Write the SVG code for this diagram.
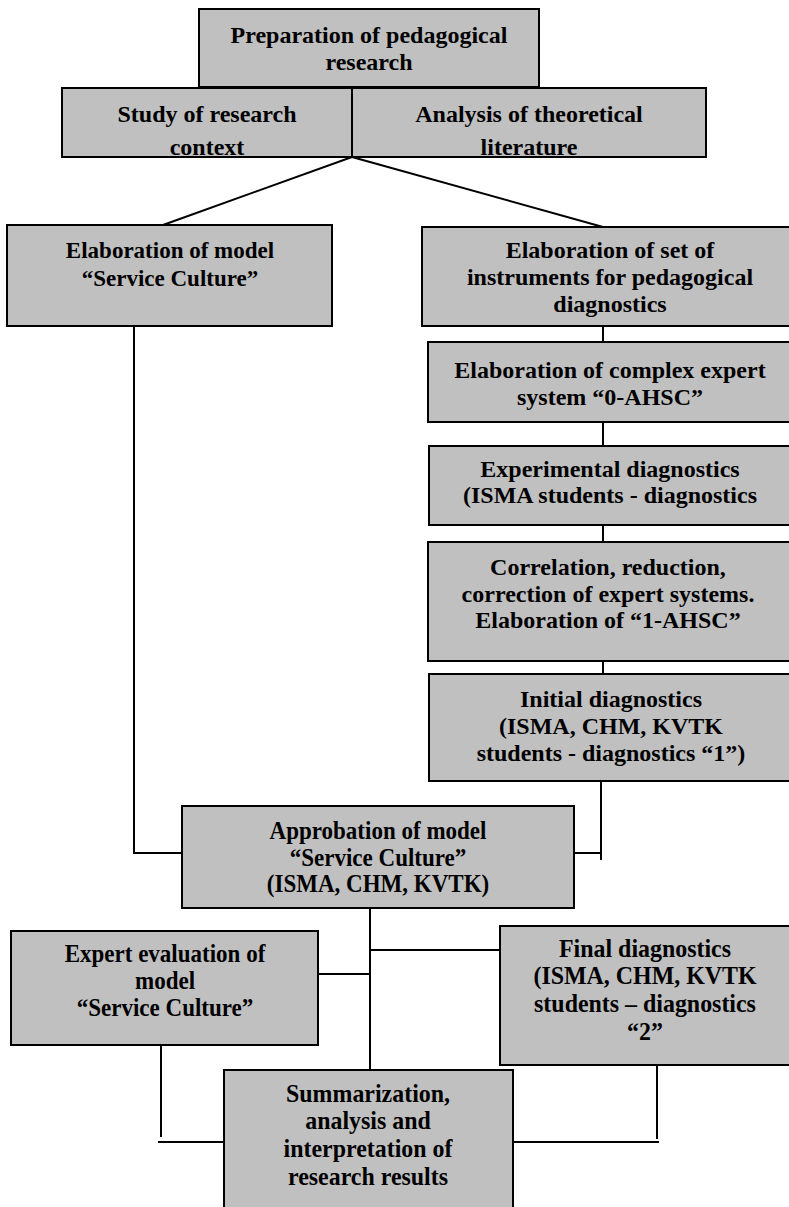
<svg xmlns="http://www.w3.org/2000/svg" width="789" height="1207" viewBox="0 0 789 1207">
  <style>
    .box { fill: #c0c0c0; stroke: #000; stroke-width: 2; }
    .lbl { font-family: "Liberation Serif", "Times New Roman", serif; font-weight: bold; font-size: 24px; fill: #000; text-anchor: middle; }
    .sm { font-size: 23px; }
    .tall { font-size: 26px; }
    .wire { fill: none; stroke: #000; stroke-width: 2; }
  </style>
  <defs>
    <clipPath id="clipStudy"><rect x="62" y="88" width="290" height="68"/></clipPath>
    <clipPath id="clipAnalysis"><rect x="352" y="88" width="354" height="68"/></clipPath>
  </defs>
  <rect width="789" height="1207" fill="#fff"/>

  <g id="connectors">
    <path class="wire" d="M352,157 L163,225"/>
    <path class="wire" d="M352,157 L603,227"/>
    <path class="wire" d="M603,326 V342"/>
    <path class="wire" d="M603,422 V446"/>
    <path class="wire" d="M603,525 V542"/>
    <path class="wire" d="M603,661 V674"/>
    <path class="wire" d="M601,781 V860"/>
    <path class="wire" d="M574,853 H601"/>
    <path class="wire" d="M134,326 V853 H182"/>
    <path class="wire" d="M370,908 V1070"/>
    <path class="wire" d="M370,950 H500"/>
    <path class="wire" d="M318,974 H370"/>
    <path class="wire" d="M161,1045 V1137"/>
    <path class="wire" d="M158,1142 H224"/>
    <path class="wire" d="M657,1065 V1139"/>
    <path class="wire" d="M513,1142 H659"/>
  </g>

  <g id="prep">
    <rect class="box" x="199" y="9" width="340" height="78"/>
    <text class="lbl" x="369" y="43">Preparation of pedagogical</text>
    <text class="lbl" x="369" y="70">research</text>
  </g>

  <g id="study">
    <rect class="box" x="62" y="88" width="290" height="69"/>
    <g clip-path="url(#clipStudy)">
      <text class="lbl" x="207" y="122">Study of research</text>
      <text class="lbl" x="207" y="155">context</text>
    </g>
    <rect x="62" y="88" width="290" height="69" fill="none" stroke="#000" stroke-width="2"/>
  </g>

  <g id="analysis">
    <rect class="box" x="352" y="88" width="354" height="69"/>
    <g clip-path="url(#clipAnalysis)">
      <text class="lbl" x="529" y="122">Analysis of theoretical</text>
      <text class="lbl" x="529" y="155">literature</text>
    </g>
    <rect x="352" y="88" width="354" height="69" fill="none" stroke="#000" stroke-width="2"/>
  </g>

  <g id="model">
    <rect class="box" x="7" y="225" width="325" height="101"/>
    <text class="lbl sm" x="170" y="258">Elaboration of model</text>
    <text class="lbl sm" x="170" y="286">“Service Culture”</text>
  </g>

  <g id="instruments">
    <rect class="box" x="422" y="227" width="372" height="99"/>
    <text class="lbl" x="610" y="258">Elaboration of set of</text>
    <text class="lbl" x="610" y="285">instruments for pedagogical</text>
    <text class="lbl" x="610" y="312">diagnostics</text>
  </g>

  <g id="ahsc0">
    <rect class="box" x="428" y="342" width="366" height="80"/>
    <text class="lbl" x="610" y="378">Elaboration of complex expert</text>
    <text class="lbl" x="610" y="405">system “0-AHSC”</text>
  </g>

  <g id="experimental">
    <rect class="box" x="429" y="446" width="365" height="79"/>
    <text class="lbl" x="610" y="477">Experimental diagnostics</text>
    <text class="lbl" x="610" y="503">(ISMA students - diagnostics</text>
  </g>

  <g id="correlation">
    <rect class="box" x="428" y="542" width="366" height="119"/>
    <text class="lbl" x="608" y="575">Correlation, reduction,</text>
    <text class="lbl" x="608" y="602">correction of expert systems.</text>
    <text class="lbl" x="608" y="628">Elaboration of “1-AHSC”</text>
  </g>

  <g id="initial">
    <rect class="box" x="429" y="674" width="365" height="107"/>
    <text class="lbl" x="611" y="707">Initial diagnostics</text>
    <text class="lbl" x="611" y="734">(ISMA, CHM, KVTK</text>
    <text class="lbl" x="611" y="761">students - diagnostics “1”)</text>
  </g>

  <g id="approbation">
    <rect class="box" x="182" y="806" width="392" height="102"/>
    <g transform="translate(378,0) scale(0.885,1)">
      <text class="lbl tall" x="0" y="839">Approbation of model</text>
      <text class="lbl tall" x="0" y="866">“Service Culture”</text>
      <text class="lbl tall" x="0" y="892">(ISMA, CHM, KVTK)</text>
    </g>
  </g>

  <g id="expert">
    <rect class="box" x="11" y="931" width="307" height="114"/>
    <g transform="translate(165,0) scale(0.885,1)">
      <text class="lbl tall" x="0" y="962">Expert evaluation of</text>
      <text class="lbl tall" x="0" y="989">model</text>
      <text class="lbl tall" x="0" y="1016">“Service Culture”</text>
    </g>
  </g>

  <g id="final">
    <rect class="box" x="500" y="926" width="295" height="139"/>
    <g transform="translate(645,0) scale(0.92,1)">
      <text class="lbl tall" x="0" y="957">Final diagnostics</text>
      <text class="lbl tall" x="0" y="984">(ISMA, CHM, KVTK</text>
      <text class="lbl tall" x="0" y="1012">students – diagnostics</text>
      <text class="lbl tall" x="0" y="1040">“2”</text>
    </g>
  </g>

  <g id="summary">
    <rect class="box" x="224" y="1070" width="289" height="150"/>
    <g transform="translate(368,0) scale(0.92,1)">
      <text class="lbl tall" x="0" y="1102">Summarization,</text>
      <text class="lbl tall" x="0" y="1129">analysis and</text>
      <text class="lbl tall" x="0" y="1157">interpretation of</text>
      <text class="lbl tall" x="0" y="1185">research results</text>
    </g>
  </g>
</svg>
